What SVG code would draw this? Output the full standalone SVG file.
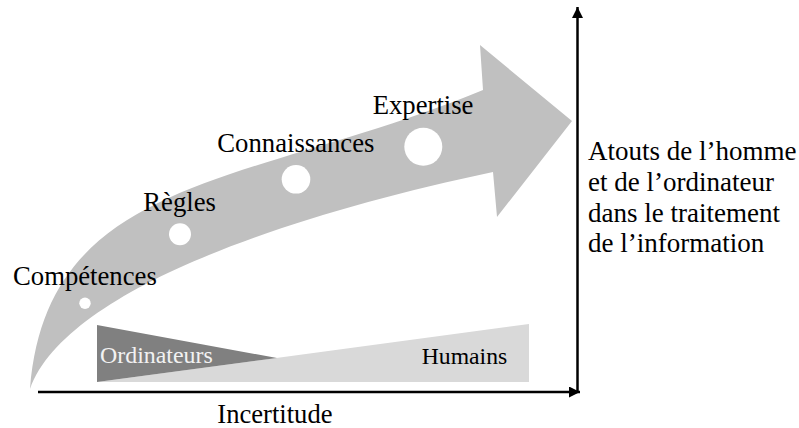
<svg xmlns="http://www.w3.org/2000/svg" width="799" height="428" viewBox="0 0 799 428">
  <defs>
    <marker id="ah" markerUnits="userSpaceOnUse" markerWidth="12" markerHeight="11" refX="11" refY="5.5" orient="auto">
      <path d="M0,0 L11,5.5 L0,11 Z" fill="#000"/>
    </marker>
  </defs>
  <style>
    text { font-family: 'Liberation Serif', 'Times New Roman', Times, serif; fill: #000; }
    .dot { fill: #fff; }
    .axis { stroke: #000; stroke-width: 2.5; fill: none; }
  </style>
  <rect width="799" height="428" fill="#fff"/>

  <g id="big-arrow">
    <path d="M30,389 C47,174 248.7,186.7 483,90 L480,45 L572,121 L497,217 L493,172 C268.6,219.6 63.7,294.7 30,389 Z" fill="#c0c0c0"/>
  </g>

  <g id="competences">
    <circle class="dot" cx="85" cy="303.3" r="5.7"/>
    <text font-family="Liberation Serif, serif" x="13" y="285" font-size="26.7">Compétences</text>
  </g>
  <g id="regles">
    <circle class="dot" cx="180" cy="234.3" r="11"/>
    <text font-family="Liberation Serif, serif" x="143.3" y="210.7" font-size="26.7">Règles</text>
  </g>
  <g id="connaissances">
    <circle class="dot" cx="296" cy="179.3" r="14.3"/>
    <text font-family="Liberation Serif, serif" x="217.3" y="151.7" font-size="26.7">Connaissances</text>
  </g>
  <g id="expertise">
    <circle class="dot" cx="423.3" cy="146.7" r="19"/>
    <text font-family="Liberation Serif, serif" x="372.7" y="114" font-size="26.7">Expertise</text>
  </g>

  <g id="humains">
    <polygon points="97,382 529,324 529,382" fill="#d9d9d9"/>
    <text font-family="Liberation Serif, serif" x="421.7" y="364" font-size="23.7">Humains</text>
  </g>
  <g id="ordinateurs">
    <polygon points="97,325 277,358 97,382" fill="#808080"/>
    <text font-family="Liberation Serif, serif" x="100" y="363.3" font-size="23.9" style="fill:#f2f2f2">Ordinateurs</text>
  </g>

  <g id="connectors">
    <line class="axis" x1="577.5" y1="393" x2="577.5" y2="7" marker-end="url(#ah)"/>
    <line class="axis" x1="38" y1="392" x2="580" y2="392" marker-end="url(#ah)"/>
  </g>

  <g id="axis-labels">
    <text font-family="Liberation Serif, serif" x="217.3" y="422.5" font-size="26.6">Incertitude</text>
    <text font-family="Liberation Serif, serif" x="588" font-size="27">
      <tspan x="588" y="160">Atouts de l’homme</tspan>
      <tspan x="588" y="191">et de l’ordinateur</tspan>
      <tspan x="588" y="222">dans le traitement</tspan>
      <tspan x="588" y="252">de l’information</tspan>
    </text>
  </g>
</svg>
